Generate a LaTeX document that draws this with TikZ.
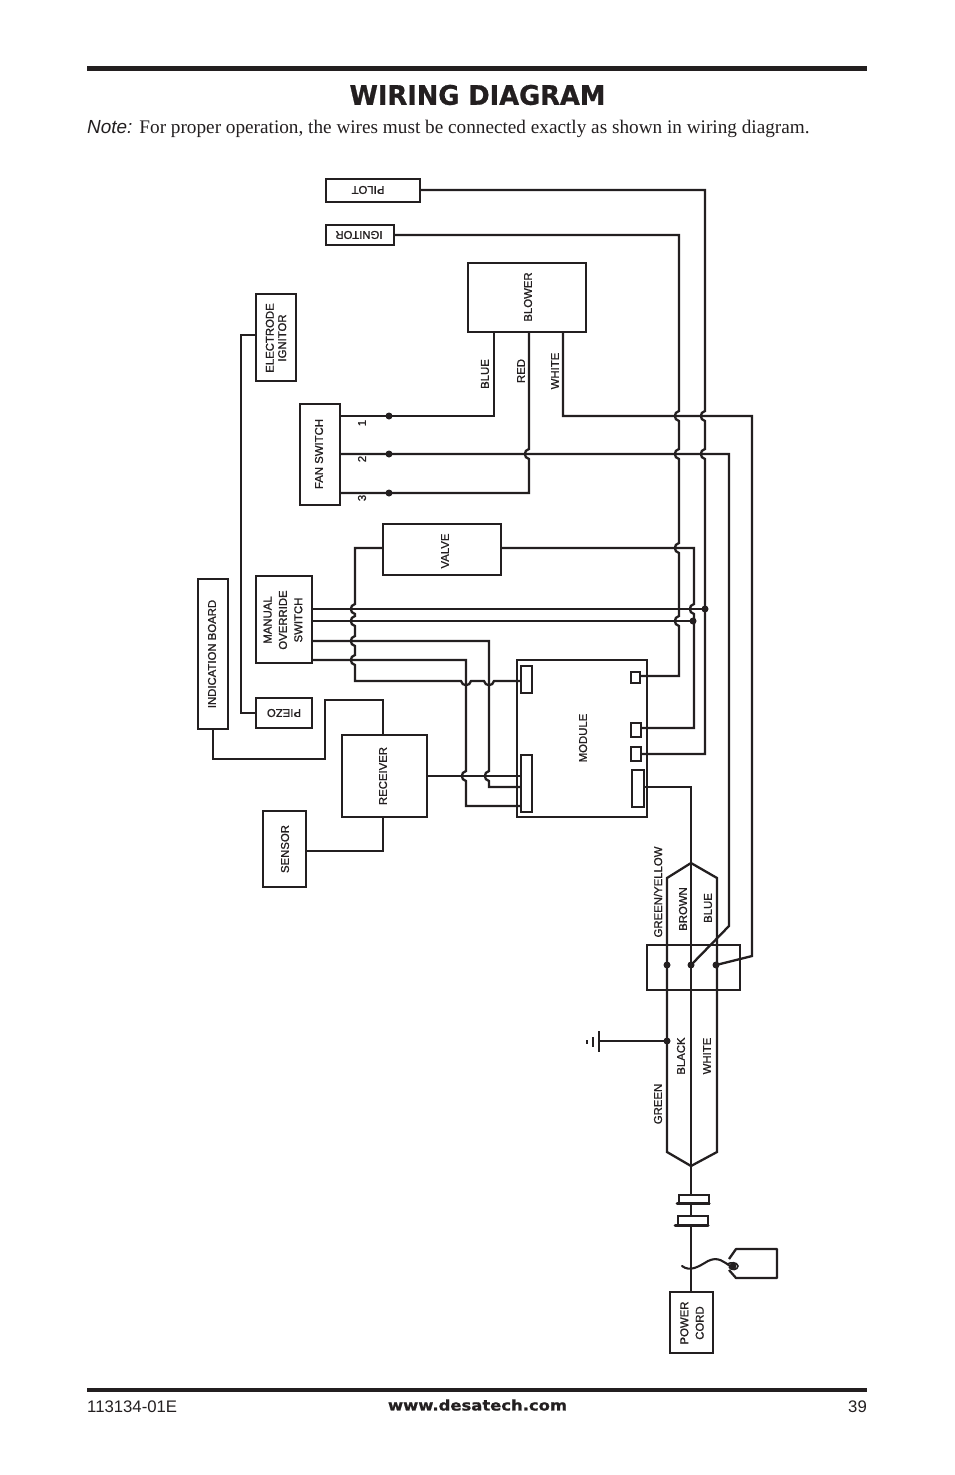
\documentclass[tikz,border=0pt]{standalone}
\usepackage{fontspec}
\setmainfont{Liberation Sans}
\newfontfamily\serifnote{Liberation Serif}
\newfontfamily\titlefont[FakeBold=0.9]{DejaVu Sans}
\newfontfamily\labfont[FakeBold=1.1]{Liberation Sans}
\newcommand{\hv}[2]{-- (#1,#2-5) .. controls (#1-5.5,#2-4) and (#1-5.5,#2+4) .. (#1,#2+5)}
\newcommand{\hh}[2]{-- (#1-5,#2) .. controls (#1-4,#2+5.5) and (#1+4,#2+5.5) .. (#1+5,#2)}
\definecolor{ink}{HTML}{231F20}
\tikzset{
  part/.style={draw=ink,line width=2.7bp,fill=white,inner sep=0pt,outer sep=0pt,anchor=north west},
  portbox/.style={draw=ink,line width=2.4bp,fill=white,inner sep=0pt,outer sep=0pt,anchor=north west},
  lab/.style={text=ink,font=\labfont\fontsize{11.4}{12.4}\selectfont,align=center,inner sep=0pt},
  wire/.style={draw=ink,line width=2.3bp,line join=miter},
  dotn/.style={circle,fill=ink,inner sep=0pt,minimum size=7bp},
}
\newcommand{\bx}[5]{\pgfmathsetmacro\bw{#4-#2}\pgfmathsetmacro\bh{#5-#3}%
  \node[part,minimum width=\bw bp,minimum height=\bh bp] (#1) at (#2,#3) {};}
\newcommand{\prt}[5]{\pgfmathsetmacro\bw{#4-#2}\pgfmathsetmacro\bh{#5-#3}%
  \node[portbox,minimum width=\bw bp,minimum height=\bh bp] (#1) at (#2,#3) {};}
\begin{document}
\begin{tikzpicture}[x=1bp,y=-1bp]
\useasboundingbox (0,0) rectangle (954,1475);
\fill[white] (0,0) rectangle (954,1475);
% page furniture
\node[fill=ink,minimum width=780bp,minimum height=5bp,inner sep=0pt,anchor=north west] (toprule) at (87,66) {};
\node[fill=ink,minimum width=780bp,minimum height=4bp,inner sep=0pt,anchor=north west] (botrule) at (87,1388) {};
\node[text=ink,inner sep=0pt,xscale=0.955] (title) at (477.5,95) {\titlefont\bfseries\fontsize{27}{29}\selectfont WIRING DIAGRAM};
\node[text=ink,inner sep=0pt,anchor=base west] (note) at (87,133.5) {\fontsize{19}{22}\selectfont\itshape Note: \serifnote\upshape\fontsize{19.3}{22}\selectfont For proper operation, the wires must be connected exactly as shown in wiring diagram.};
\node[text=ink,inner sep=0pt,anchor=base west] (code) at (87,1412) {\fontsize{16.8}{18}\selectfont 113134-01E};
\node[text=ink,inner sep=0pt,xscale=1.12] (web) at (477.5,1405) {\titlefont\bfseries\fontsize{14.7}{16}\selectfont www.desatech.com};
\node[text=ink,inner sep=0pt,anchor=base east] (pagen) at (867,1412) {\fontsize{16.8}{18}\selectfont 39};

% terminal coordinates
\coordinate (pilotE) at (420,190);
\coordinate (ignE) at (394,235);
\coordinate (blowBlue) at (494,332);
\coordinate (blowRed) at (529,332);
\coordinate (blowWhite) at (563,332);
\coordinate (fan1) at (340,416);
\coordinate (fan2) at (340,454);
\coordinate (fan3) at (340,493);
\coordinate (valveW) at (383,548);
\coordinate (valveE) at (501,548);
\coordinate (man1) at (312,609);
\coordinate (man2) at (312,621);
\coordinate (man3) at (312,641);
\coordinate (man4) at (312,660);
\coordinate (elecW) at (256,335);
\coordinate (piezoW) at (256,713);
\coordinate (indS) at (213,729);
\coordinate (recN) at (383,735);
\coordinate (recS) at (383,817);
\coordinate (recE) at (427,776);
\coordinate (sensE) at (306,851);
\coordinate (mA) at (521,681);
\coordinate (mB) at (521,776);
\coordinate (mC) at (521,787);
\coordinate (mD) at (521,806);
\coordinate (mR1) at (640,676);
\coordinate (mR2) at (641,728);
\coordinate (mR3) at (641,754);
\coordinate (mR4) at (644,787);
\coordinate (cordN) at (691,1292);

% wires
\draw[wire] (pilotE) -- (705,190) \hv{705}{416} \hv{705}{454} -- (705,754) -- (mR3);
\draw[wire] (ignE) -- (679,235) \hv{679}{416} \hv{679}{454} \hv{679}{548} \hv{679}{621} -- (679,676) -- (mR1);
\draw[wire] (blowBlue) -- (494,416) -- (fan1);
\draw[wire] (blowRed) \hv{529}{454} -- (529,493) -- (fan3);
\draw[wire] (blowWhite) -- (563,416) -- (752,416) -- (752,956) -- (716,965);
\draw[wire] (fan2) -- (729,454) -- (729,926) -- (691,965);
\draw[wire] (valveW) -- (355,548) \hv{355}{609} \hv{355}{621} \hv{355}{641} \hv{355}{660} -- (355,681) \hh{466}{681} \hh{489}{681} -- (mA);
\draw[wire] (valveE) -- (694,548) \hv{694}{609} -- (694,728) -- (mR2);
\draw[wire] (man1) -- (705,609);
\draw[wire] (man2) -- (693,621);
\draw[wire] (man3) -- (489,641) \hv{489}{776} -- (489,787) -- (mC);
\draw[wire] (man4) -- (466,660) \hv{466}{776} -- (466,806) -- (mD);
\draw[wire] (recE) -- (mB);
\draw[wire] (indS) -- (213,759) -- (325,759) -- (325,700) -- (383,700) -- (recN);
\draw[wire] (piezoW) -- (241,713) -- (241,335) -- (elecW);
\draw[wire] (sensE) -- (383,851) -- (recS);
\draw[wire] (mR4) -- (691,787) -- (cordN);
% cable
\draw[wire] (667,1041) -- (598,1041);
\draw[wire] (667,892) -- (667,878) -- (691,863) -- (717,878) -- (717,1152) -- (691,1166) -- (667,1152) -- cycle;
% splice box
\node[draw=ink,line width=2.3bp,inner sep=0pt,minimum width=93bp,minimum height=45bp,anchor=north west] (splice) at (646,944) {};

% boxes
\bx{pilot}{326}{179}{420}{202}
\bx{ignitor}{326}{225}{394}{245}
\bx{blower}{468}{263}{586}{332}
\bx{electrode}{256}{294}{296}{381}
\bx{fan}{300}{404}{340}{505}
\bx{valve}{383}{524}{501}{575}
\bx{manual}{256}{576}{312}{663}
\bx{indic}{198}{579}{228}{729}
\bx{piezo}{256}{698}{312}{728}
\bx{receiver}{342}{735}{427}{817}
\bx{sensor}{263}{811}{306}{887}
\bx{powercord}{670}{1292}{713}{1353}
\draw[draw=ink,line width=2.7bp] (517,660) rectangle (647,817);
\prt{p1}{521}{666}{532}{693}
\prt{p2}{521}{755}{532}{812}
\prt{p3}{631}{672}{640}{683}
\prt{p4}{631}{723}{641}{737}
\prt{p5}{631}{747}{641}{761}
\prt{p6}{632}{770}{644}{807}

% dots
\foreach \n/\x/\y in {d1/389/416,d2/389/454,d3/389/493,d4/705/609,d5/693/621,d6/667/965,d7/691/965,d8/716/965,d9/667/1041}
  \node[dotn] (\n) at (\x,\y) {};

% ground
\draw[wire,line width=2.6bp] (599,1031) -- (599,1052);
\draw[wire,line width=2.6bp] (593,1037) -- (593,1047);
\draw[wire,line width=2.6bp] (587,1040) -- (587,1044);

% connector
\node[draw=ink,line width=2.1bp,fill=white,inner sep=0pt,minimum width=30bp,minimum height=9bp,anchor=north west] (con1) at (677.5,1194) {};
\node[draw=ink,line width=2.1bp,fill=white,inner sep=0pt,minimum width=30bp,minimum height=9bp,anchor=north west] (con2) at (676.5,1215) {};
\draw[ink,line width=3bp,line cap=round] (677,1203.5) -- (709,1203.5);
\draw[ink,line width=3bp,line cap=round] (675,1225) -- (708,1225);
% tag
\draw[wire,line join=round] (729,1259) -- (736,1249) -- (777,1249) -- (777,1278) -- (736,1278) -- (729,1270);
\draw[ink,line width=2.1bp,line cap=round] (682,1266) .. controls (690,1272) and (698,1267) .. (708,1261) .. controls (718,1256) and (724,1262) .. (730,1266);
\draw[ink,line width=1.6bp] (727,1264) .. controls (731,1262) and (737,1262) .. (738,1266) .. controls (738,1270) and (731,1271) .. (729,1267);
\fill[ink] (733,1266) circle (3.4);

% labels
\node[lab,rotate=180] (tPilot) at (368,190) {PILOT};
\node[lab,rotate=180] (tIgn) at (359,235) {IGNITOR};
\node[lab,rotate=90] (tBlower) at (528,297) {BLOWER};
\node[lab,rotate=90] (tBlue) at (485,374) {BLUE};
\node[lab,rotate=90] (tRed) at (521,371) {RED};
\node[lab,rotate=90] (tWhite) at (555,371) {WHITE};
\node[lab,rotate=90] (tElec) at (276,338) {ELECTRODE\\IGNITOR};
\node[lab,rotate=90] (tFan) at (319,454) {FAN SWITCH};
\node[lab,rotate=90] (t1) at (362,423) {1};
\node[lab,rotate=90] (t2) at (362,459) {2};
\node[lab,rotate=90] (t3) at (362,498) {3};
\node[lab,rotate=90] (tValve) at (445,551) {VALVE};
\node[lab,rotate=90,font=\labfont\fontsize{11.4}{15.4}\selectfont] (tMan) at (283,620) {MANUAL\\OVERRIDE\\SWITCH};
\node[lab,rotate=90] (tInd) at (212,654) {INDICATION BOARD};
\node[lab,rotate=180] (tPiezo) at (284,713) {PIEZO};
\node[lab,rotate=90] (tRec) at (383,776) {RECEIVER};
\node[lab,rotate=90] (tSens) at (285,849) {SENSOR};
\node[lab,rotate=90] (tMod) at (583,738) {MODULE};
\node[lab,rotate=90] (tGY) at (658,892) {GREEN/YELLOW};
\node[lab,rotate=90] (tBrown) at (683,909) {BROWN};
\node[lab,rotate=90] (tBlue2) at (708,908) {BLUE};
\node[lab,rotate=90] (tBlack) at (681,1056) {BLACK};
\node[lab,rotate=90] (tWhite2) at (707,1056) {WHITE};
\node[lab,rotate=90] (tGreen) at (658,1104) {GREEN};
\node[lab,rotate=90,font=\labfont\fontsize{11.4}{15.5}\selectfont] (tCord) at (692,1323) {POWER\\CORD};
\end{tikzpicture}
\end{document}
